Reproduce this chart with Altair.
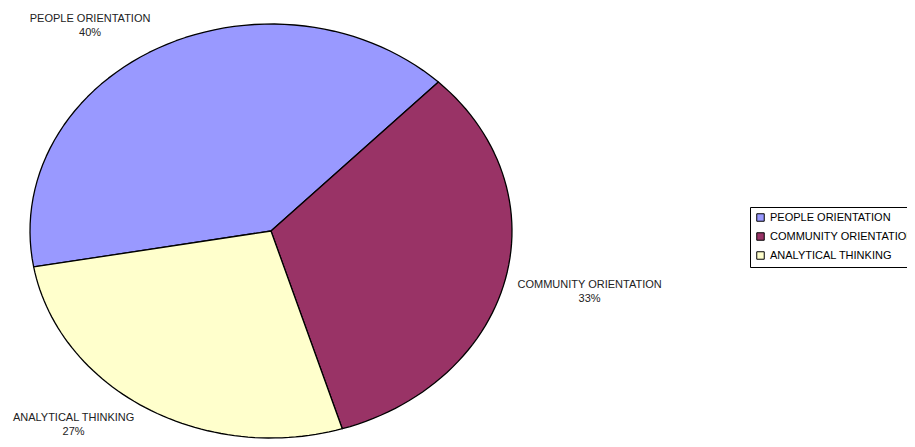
import altair as alt
import pandas as pd

categories = ["PEOPLE ORIENTATION", "COMMUNITY ORIENTATION", "ANALYTICAL THINKING"]
values = [40, 33, 27]
colors = ["#9999FF", "#993366", "#FFFFCC"]
order = [0, 1, 2]

df = pd.DataFrame({"cat": categories, "val": values, "ord": order})

START = "(-100*PI/180)"

base = alt.Chart(df).transform_joinaggregate(
    total="sum(val)"
).transform_window(
    cum="sum(val)", sort=[alt.SortField("ord")], frame=[None, 0]
).transform_calculate(
    a0=f"{START} + 2*PI*(datum.cum - datum.val)/datum.total",
    a1=f"{START} + 2*PI*datum.cum/datum.total",
)

xs = alt.Scale(domain=[-1, 1])
ys = alt.Scale(domain=[-1, 1])

pie = base.transform_calculate(
    idx="sequence(-1, 62)"
).transform_flatten(["idx"]).transform_calculate(
    t="datum.a0 + (datum.a1 - datum.a0) * clamp(datum.idx, 0, 60) / 60",
    ctr="datum.idx < 0 || datum.idx > 60",
).transform_calculate(
    px="datum.ctr ? 0 : sin(datum.t)",
    py="datum.ctr ? 0 : cos(datum.t)",
).mark_line(stroke="black", strokeWidth=1.3, strokeJoin="round").encode(
    x=alt.X("px:Q", scale=xs, axis=None),
    y=alt.Y("py:Q", scale=ys, axis=None),
    fill=alt.Fill(
        "cat:N",
        scale=alt.Scale(domain=categories, range=colors),
        sort=categories,
        legend=alt.Legend(
            title=None,
            orient="none",
            legendX=720,
            legendY=183,
            symbolType="square",
            symbolSize=56,
            symbolStrokeColor="black",
            symbolStrokeWidth=1,
            labelFont="Liberation Sans",
            labelFontSize=11,
            labelColor="black",
            rowPadding=6,
            labelOffset=4,
            padding=5,
            strokeColor="black",
        ),
    ),
    detail="cat:N",
    order="idx:Q",
)

labels = base.transform_calculate(
    m="(datum.a0 + datum.a1) / 2",
).transform_calculate(
    s="sin(datum.m)",
    c="cos(datum.m)",
    hw="length(datum.cat) * 6.9 / 2 / 241",
    pct="format(datum.val / datum.total, '.0%')",
).transform_calculate(
    lx="1.05 * datum.s + (datum.s > 0 ? 1 : -1) * datum.hw",
    ly="clamp(1.068 * datum.c + (datum.c > 0 ? 0.046 : -0.046), -0.935, 1.2)",
    lab="[datum.cat, datum.pct]",
).mark_text(
    font="Liberation Sans", fontSize=11, lineHeight=14, color="#222",
    align="center", baseline="middle", dy=-7,
).encode(
    x=alt.X("lx:Q", scale=xs, axis=None),
    y=alt.Y("ly:Q", scale=ys, axis=None),
    text=alt.Text("lab:N"),
)

chart = alt.layer(pie, labels).properties(
    width=482,
    height=414,
    autosize=alt.AutoSizeParams(type="none"),
    padding={"left": 22, "top": 16, "right": 395, "bottom": 1},
).configure_view(stroke=None)

chart.save("out.html", embed_options={"renderer": "svg", "actions": False})
